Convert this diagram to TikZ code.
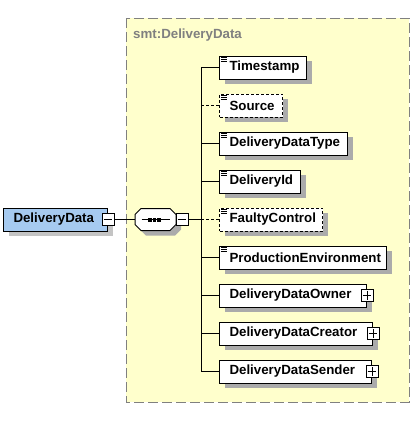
\documentclass[tikz,border=0pt]{standalone}
\usepackage{fontspec}
\setmainfont{Liberation Sans}
\usetikzlibrary{shadows}
\definecolor{ybg}{HTML}{FFFFCC}
\definecolor{yframe}{HTML}{808080}
\definecolor{rootblue}{HTML}{A6CAF0}
\definecolor{shgray}{HTML}{ABABAB}
\definecolor{shlight}{HTML}{C4C4C4}
\definecolor{lblgray}{HTML}{808080}
\tikzset{
  efont/.style={font=\bfseries\fontsize{13.3pt}{16pt}\selectfont},
  shad/.style={drop shadow={shadow xshift=5pt, shadow yshift=-5pt, fill=shgray, opacity=1, draw=none}},
  elem/.style={efont, draw=black, fill=white, line width=1pt, anchor=west,
    minimum height=23pt, inner xsep=0pt, inner ysep=0pt, shad},
  optelem/.style={elem, dash pattern=on 3pt off 2pt},
  pm/.style={draw=black, fill=white, line width=0.8pt, minimum size=12pt, inner sep=0pt},
  conn/.style={line width=1pt, black},
  optconn/.style={conn, dash pattern=on 3pt off 2pt},
  icn/.style={line width=0.7pt, black},
}
\newcommand{\elicon}[1]{%
  \draw[icn] ([xshift=2pt,yshift=-1.5pt]#1.north west) -- ++(6pt,0);
  \draw[icn] ([xshift=2pt,yshift=-3.5pt]#1.north west) -- ++(6pt,0);
  \draw[icn] ([xshift=2pt,yshift=-5.5pt]#1.north west) -- ++(6pt,0);}
\newcommand{\plusmark}[1]{%
  \draw[line width=0.8pt] ([xshift=2pt]#1.west) -- ([xshift=-2pt]#1.east);
  \draw[line width=0.8pt] ([yshift=-2pt]#1.north) -- ([yshift=2pt]#1.south);}
\newcommand{\minusmark}[1]{%
  \draw[line width=0.8pt] ([xshift=2pt]#1.west) -- ([xshift=-2pt]#1.east);}
\begin{document}
\begin{tikzpicture}[x=1pt,y=-1pt]
\useasboundingbox (0,0) rectangle (415,423);
\fill[white] (0,0) rectangle (415,423);
% type frame
\draw[yframe, fill=ybg, line width=1pt, dash pattern=on 10pt off 4pt] (126,18) rectangle (409,402);
\node[efont, text=lblgray, anchor=base west, inner sep=0pt] (lbl) at (133,38) {smt:DeliveryData};
% root
\node[elem, fill=rootblue, drop shadow={shadow xshift=5pt, shadow yshift=-5pt, fill=shlight, opacity=1, draw=none}, minimum width=104pt] (root) at (3,219.5) {\makebox[104pt][l]{\hspace{10pt}DeliveryData}};
\node[pm] (rootm) at (root.east) {};
\minusmark{rootm}
% sequence compositor
\path[shad, draw=black, fill=white, line width=1pt]
  (141,208.5) -- (170,208.5) -- (176,214.5) -- (176,224.5) -- (170,230.5) -- (141,230.5) -- (135,224.5) -- (135,214.5) -- cycle;
\node[minimum width=41pt, minimum height=22pt, inner sep=0pt] (seq) at (155.5,219.5) {};
\draw[line width=1pt] (141.5,219.5) -- (170,219.5);
\fill (148,217.5) rectangle (151.6,221.5);
\fill (152.7,217.5) rectangle (156.3,221.5);
\fill (157.4,217.5) rectangle (161,221.5);
\node[pm] (seqm) at (182,219.5) {};
\minusmark{seqm}
\draw[conn] (rootm.east) -- (seq.west);
\coordinate (tk) at (201,219.5);
\draw[conn] (seqm.east) -- (tk);
% children
\node[elem, minimum width=87pt] (ts) at (219,67.5) {\makebox[87pt][l]{\hspace{10pt}Timestamp}};
\node[optelem, minimum width=63pt] (src) at (219,105.5) {\makebox[63pt][l]{\hspace{10pt}Source}};
\node[elem, minimum width=128pt] (ddt) at (219,143.5) {\makebox[128pt][l]{\hspace{10pt}DeliveryDataType}};
\node[elem, minimum width=81pt] (did) at (219,181.5) {\makebox[81pt][l]{\hspace{10pt}DeliveryId}};
\node[optelem, minimum width=103pt] (fc) at (219,219.5) {\makebox[103pt][l]{\hspace{10pt}FaultyControl}};
\node[elem, minimum width=167pt] (pe) at (219,257.5) {\makebox[167pt][l]{\hspace{10pt}ProductionEnvironment}};
\node[elem, minimum width=147pt] (own) at (219,295.5) {\makebox[147pt][l]{\hspace{10pt}DeliveryDataOwner}};
\node[elem, minimum width=153pt] (cre) at (219,333.5) {\makebox[153pt][l]{\hspace{10pt}DeliveryDataCreator}};
\node[elem, minimum width=152pt] (snd) at (219,371.5) {\makebox[152pt][l]{\hspace{10pt}DeliveryDataSender}};
\foreach \n in {ts,src,ddt,did,fc,pe}{\elicon{\n}}
\node[pm] (ownp) at (own.east) {}; \plusmark{ownp}
\node[pm] (crep) at (cre.east) {}; \plusmark{crep}
\node[pm] (sndp) at (snd.east) {}; \plusmark{sndp}
% connectors
\draw[conn] (ts.west -| tk) -- (snd.west -| tk);
\draw[conn] (ts.west -| tk) -- (ts.west);
\draw[optconn] (src.west -| tk) -- (src.west);
\draw[conn] (ddt.west -| tk) -- (ddt.west);
\draw[conn] (did.west -| tk) -- (did.west);
\draw[optconn] (tk) -- (fc.west);
\draw[conn] (pe.west -| tk) -- (pe.west);
\draw[conn] (own.west -| tk) -- (own.west);
\draw[conn] (cre.west -| tk) -- (cre.west);
\draw[conn] (snd.west -| tk) -- (snd.west);
\end{tikzpicture}
\end{document}
